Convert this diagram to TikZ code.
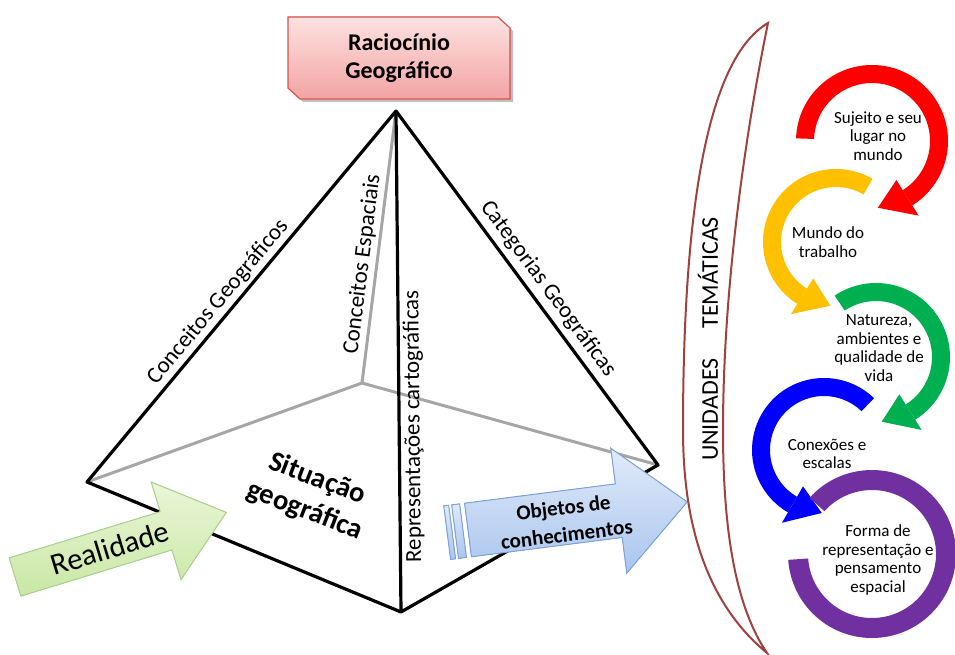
\documentclass[tikz,border=0pt]{standalone}
\usepackage{fontspec}
\setmainfont{Carlito}

\definecolor{boxred}{HTML}{D9534F}
\definecolor{boxtop}{HTML}{FDE2E2}
\definecolor{boxbot}{HTML}{F4A3A3}
\definecolor{bowred}{HTML}{A0413F}
\definecolor{backgray}{HTML}{A6A6A6}
\definecolor{greenline}{HTML}{A9D18E}
\definecolor{greentop}{HTML}{EAF6D8}
\definecolor{greenbot}{HTML}{C9E7A4}
\definecolor{blueline}{HTML}{7DA2D9}
\definecolor{bluetop}{HTML}{E1EBF9}
\definecolor{bluebot}{HTML}{A9C5EE}
\definecolor{ringred}{HTML}{FF0000}
\definecolor{ringyellow}{HTML}{FFC000}
\definecolor{ringgreen}{HTML}{00B050}
\definecolor{ringblue}{HTML}{0000FF}
\definecolor{ringpurple}{HTML}{7030A0}

\begin{document}
\begin{tikzpicture}[x=1pt,y=-1pt,
  edge/.style={line width=3.2pt,black,line join=round},
  hidden/.style={line width=3pt,backgray},
  lbl/.style={text=black,font=\fontsize{23}{27}\selectfont,inner sep=3pt},
  ringtxt/.style={align=center,font=\fontsize{17}{18.5}\selectfont}]
\useasboundingbox (0,0) rectangle (955,655);

% pyramid
\coordinate (apex) at (396,111);
\coordinate (lft) at (87,482);
\coordinate (bot) at (401,612);
\coordinate (rgt) at (658,465);
\coordinate (back) at (362,383);

\draw[hidden] (lft) -- (back) -- (rgt);
\draw[hidden] (back) -- node[sloped,above,lbl,pos=.43] (espac) {Conceitos Espaciais} (apex);

\draw[edge] (lft) -- node[sloped,above,lbl,pos=.46] (geog) {Conceitos Geográficos} (apex)
  -- node[sloped,above,lbl,pos=.53,inner sep=5pt] (categ) {Categorias Geográficas} (rgt) -- (bot) -- cycle;
\draw[edge] (bot) -- node[sloped,allow upside down,below,lbl,pos=.37] (repr) {Representações cartográficas} (apex);

\node[rotate=-21,align=center,font=\bfseries\fontsize{28.5}{34}\selectfont] (sit) at (311,495) {Situação\\geográfica};

% top box
\fill[black!25] (291,20) -- (501,20) -- (513,31) -- (513,102) -- (303,102) -- (291,91) -- cycle;
\filldraw[draw=boxred,line width=1.2pt,top color=boxtop,bottom color=boxbot]
  (288,17) -- (498,17) -- (510,28) -- (510,99) -- (300,99) -- (288,88) -- cycle;
\node[align=center,font=\bfseries\fontsize{24}{28}\selectfont] (racioc) at (399,58) {Raciocínio\\Geográfico};

% arrows
\begin{scope}[shift={(15,577)},rotate=17]
\filldraw[draw=greenline,line width=1pt,top color=greentop,bottom color=greenbot]
  (0,-20) -- (158,-20) -- (158,-51) -- (221,0) -- (158,51) -- (158,20) -- (0,20) -- cycle;
\end{scope}
\node[rotate=17,font=\fontsize{30.5}{31}\selectfont] (real) at (110,548) {Realidade};

\begin{scope}[shift={(468,530)},rotate=7.3]
\filldraw[draw=blueline,line width=1pt,top color=bluetop,bottom color=bluebot] (-21,-27) rectangle (-16,27);
\filldraw[draw=blueline,line width=1pt,top color=bluetop,bottom color=bluebot] (-13,-27) rectangle (-5,27);
\filldraw[draw=blueline,line width=1pt,top color=bluetop,bottom color=bluebot]
  (0,-27) -- (152,-27) -- (152,-63) -- (221,0) -- (152,63) -- (152,27) -- (0,27) -- cycle;
\end{scope}
\node[rotate=7,align=center,font=\bfseries\fontsize{21}{27}\selectfont] (objetos) at (565,521) {Objetos de\\conhecimentos};

% unidades tematicas
\filldraw[draw=bowred,line width=2pt,fill=white]
  (768,23) .. controls (705,60) and (683,220) .. (683,430)
  .. controls (683,540) and (715,610) .. (767,653)
  .. controls (738,610) and (723,540) .. (723,430)
  .. controls (723,280) and (748,120) .. cycle;
\node[rotate=90,font=\fontsize{24}{26}\selectfont] (unid) at (708,339) {UNIDADES\hspace{30pt}TEMÁTICAS};

% rings
\foreach \cx/\cy/\ro/\ri/\s/\e/\t/\col in {872/141/76/58/-178/58/85/ringred,
    836/242/73/55/-60/-238/-265/ringyellow, 876/357/74/56/-124/58/85/ringgreen,
    824/450/72/54/-46/-240/-268/ringblue}
{
  \fill[\col] ([shift={(\cx,\cy)}]\s:\ro) arc[start angle=\s,end angle=\e,radius=\ro]
    -- ([shift={(\cx,\cy)}]\e:\ri) arc[start angle=\e,end angle=\s,radius=\ri] -- cycle;
  \fill[\col] ([shift={(\cx,\cy)}]\e:{\ri-12}) -- ([shift={(\cx,\cy)}]\e:{\ro+12})
    -- ([shift={(\cx,\cy)}]\t:{(\ro+\ri)/2}) -- cycle;
}
\fill[ringpurple] ([shift={(872,554)}]-138:84) arc[start angle=-138,end angle=176,radius=84]
  -- ([shift={(872,554)}]176:64) arc[start angle=176,end angle=-138,radius=64] -- cycle;

\node[ringtxt] (sujeito) at (878,136) {Sujeito e seu\\lugar no\\mundo};
\node[ringtxt] (trabalho) at (828,242) {Mundo do\\trabalho};
\node[ringtxt] (natureza) at (879,348) {Natureza,\\ambientes e\\qualidade de\\vida};
\node[ringtxt] (conexoes) at (827,454) {Conexões e\\escalas};
\node[ringtxt] (forma) at (878,560) {Forma de\\representação e\\pensamento\\espacial};
\end{tikzpicture}
\end{document}
